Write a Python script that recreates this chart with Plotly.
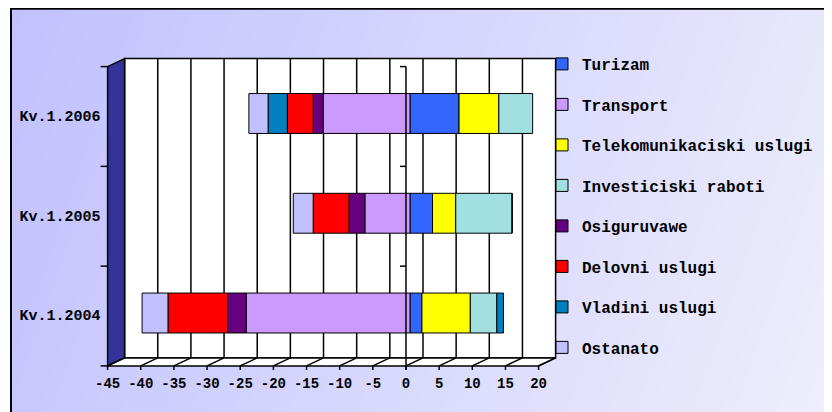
import plotly.graph_objects as go

# ---------------- data ----------------
categories = ["Kv.1.2004", "Kv.1.2005", "Kv.1.2006"]
series_names = ["Turizam", "Transport", "Telekomunikaciski uslugi", "Investiciski raboti",
                "Osiguruvawe", "Delovni uslugi", "Vladini uslugi", "Ostanato"]
turizam = [1.8, 3.4, 7.4]
transport = [-24.7, -6.8, -13.1]
telekom = [7.3, 3.5, 6.0]
investiciski = [4.0, 8.5, 5.1]
osiguruvawe = [-2.8, -2.4, -1.5]
delovni = [-9.0, -5.4, -3.9]
vladini = [1.0, 0.0, -2.9]
ostanato = [-3.9, -3.0, -2.9]
x_ticks = list(range(-45, 21, 5))
x_tick_labels = [str(v) for v in x_ticks]

series_values = [turizam, transport, telekom, investiciski, osiguruvawe, delovni, vladini, ostanato]
colors = ["#3366FF", "#CC99FF", "#FFFF00", "#A0E0E0", "#660080", "#FF0000", "#0080C0", "#C0C0FF"]

# ---------------- geometry (page pixels) ----------------
PAGE = 8                      # page offset of the figure div
VW, VH = 832, 412             # window size
W, H = VW - PAGE, VH - PAGE   # figure size so that it fits the window
XMIN, XMAX = -45, 20
PX0, PX1 = 111.6, 542.6      # bar plane (page px)
PY0, PY1 = 63.6, 362.9
FRONT = (-4, 3)
BACK = (13, -5)


def px(x):
    return (x - PAGE) / W


def py(y):
    return 1 - (y - PAGE) / H


def X(v, off):
    return px(PX0 + (v - XMIN) / (XMAX - XMIN) * (PX1 - PX0) + off[0])


def Y(yy, off):
    return py(yy + off[1])


shapes = []

# background gradient (diagonal strips)
N = 70
k = 0.35
cmax = VW + k * VH
c0 = (192, 192, 255)
c1 = (238, 238, 252)
for i in range(N + 6):
    a = i * cmax / N
    b = (i + 1) * cmax / N + 1.5
    t = min((i + 0.5) / N, 1.0)
    col = "rgb(%d,%d,%d)" % tuple(round(c0[j] + (c1[j] - c0[j]) * t) for j in range(3))
    path = "M%f,%f L%f,%f L%f,%f L%f,%f Z" % (
        px(a), py(0), px(b), py(0), px(b - k * (VH + 20)), py(VH + 20), px(a - k * (VH + 20)), py(VH + 20))
    shapes.append(dict(type="path", path=path, xref="paper", yref="paper",
                       fillcolor=col, line=dict(width=0), layer="below"))
# white outside frame
shapes.append(dict(type="rect", xref="paper", yref="paper", x0=-0.05, x1=px(11), y0=-0.05, y1=1.05,
                   fillcolor="white", line=dict(width=0), layer="below"))
# frame
shapes.append(dict(type="line", xref="paper", yref="paper", x0=px(11), x1=1.05, y0=py(8.8), y1=py(8.8),
                   line=dict(color="black", width=2), layer="below"))
shapes.append(dict(type="line", xref="paper", yref="paper", x0=px(11), x1=px(11), y0=py(8), y1=-0.05,
                   line=dict(color="black", width=2), layer="below"))

# back wall
shapes.append(dict(type="rect", xref="paper", yref="paper",
                   x0=X(XMIN, BACK), x1=X(XMAX, BACK), y0=Y(PY1, BACK), y1=Y(PY0, BACK),
                   fillcolor="white", line=dict(color="black", width=1.5), layer="below"))
for v in x_ticks[1:-1]:
    shapes.append(dict(type="line", xref="paper", yref="paper",
                       x0=X(v, BACK), x1=X(v, BACK), y0=Y(PY1, BACK), y1=Y(PY0, BACK),
                       line=dict(color="black", width=1.5), layer="below"))
# side wall
path = "M%f,%f L%f,%f L%f,%f L%f,%f Z" % (
    X(XMIN, FRONT), Y(PY0, FRONT), X(XMIN, BACK), Y(PY0, BACK),
    X(XMIN, BACK), Y(PY1, BACK), X(XMIN, FRONT), Y(PY1, FRONT))
shapes.append(dict(type="path", path=path, xref="paper", yref="paper",
                   fillcolor="#333399", line=dict(color="black", width=1.5), layer="below"))
# floor
path = "M%f,%f L%f,%f L%f,%f L%f,%f Z" % (
    X(XMIN, FRONT), Y(PY1, FRONT), X(XMIN, BACK), Y(PY1, BACK),
    X(XMAX, BACK), Y(PY1, BACK), X(XMAX, FRONT), Y(PY1, FRONT))
shapes.append(dict(type="path", path=path, xref="paper", yref="paper",
                   fillcolor="white", line=dict(color="black", width=1.5), layer="below"))
for v in x_ticks:
    shapes.append(dict(type="line", xref="paper", yref="paper",
                       x0=X(v, FRONT), x1=X(v, BACK), y0=Y(PY1, FRONT), y1=Y(PY1, BACK),
                       line=dict(color="black", width=1.5), layer="below"))
    shapes.append(dict(type="line", xref="paper", yref="paper",
                       x0=X(v, FRONT), x1=X(v, FRONT), y0=Y(PY1, FRONT), y1=Y(PY1 + 4, FRONT),
                       line=dict(color="black", width=1.5), layer="below"))
# category ticks on the left front edge
ncat = len(categories)
for i in range(ncat + 1):
    yy = PY0 + i * (PY1 - PY0) / ncat
    shapes.append(dict(type="line", xref="paper", yref="paper",
                       x0=X(XMIN, FRONT) - 7 / W, x1=X(XMIN, FRONT), y0=Y(yy, FRONT), y1=Y(yy, FRONT),
                       line=dict(color="black", width=1.5), layer="below"))
# zero (category) axis in front of the bars
shapes.append(dict(type="line", xref="paper", yref="paper",
                   x0=X(0, FRONT), x1=X(0, FRONT), y0=Y(PY1 + 4, FRONT), y1=Y(PY0, FRONT),
                   line=dict(color="black", width=1.5), layer="above"))
for i in range(ncat):
    yy = PY0 + i * (PY1 - PY0) / ncat
    shapes.append(dict(type="line", xref="paper", yref="paper",
                       x0=X(0, FRONT) - 6 / W, x1=X(0, FRONT), y0=Y(yy, FRONT), y1=Y(yy, FRONT),
                       line=dict(color="black", width=1.5), layer="above"))

fig = go.Figure()
for name, vals, col in zip(series_names, series_values, colors):
    fig.add_trace(go.Bar(
        y=categories, x=vals, orientation="h", name=name, legendgroup=name,
        marker=dict(color=col, line=dict(color="black", width=1)),
    ))

FONT = "Liberation Mono"
fig.update_layout(
    width=W, height=H,
    margin=dict(l=0, r=0, t=0, b=0, pad=0, autoexpand=False),
    paper_bgcolor="white",
    plot_bgcolor="rgba(0,0,0,0)",
    barmode="relative",
    bargap=0.6,
    font=dict(family=FONT, size=14, color="black", weight="bold"),
    shapes=shapes,
    xaxis=dict(domain=[px(PX0), px(PX1)], range=[XMIN, XMAX], tickvals=x_ticks, ticktext=x_tick_labels,
               showgrid=False, zeroline=False, showline=False, ticks="", automargin=False,
               ticklabelshift=-4, ticklabelstandoff=10,
               tickfont=dict(family=FONT, size=14, weight="bold")),
    yaxis=dict(domain=[py(PY1), py(PY0)], categoryorder="array", categoryarray=categories,
               showgrid=False, zeroline=False, showline=False, ticks="", automargin=False,
               ticklabelshift=2, ticklabelstandoff=10,
               tickfont=dict(family=FONT, size=15, weight="bold")),
    legend=dict(x=px(582 - 40), xanchor="left", y=py(47), yanchor="top",
                traceorder="grouped", tracegroupgap=16.7, bgcolor="rgba(0,0,0,0)",
                font=dict(family=FONT, size=16, weight="bold")),
    showlegend=True,
)

fig.write_html("out.html")
